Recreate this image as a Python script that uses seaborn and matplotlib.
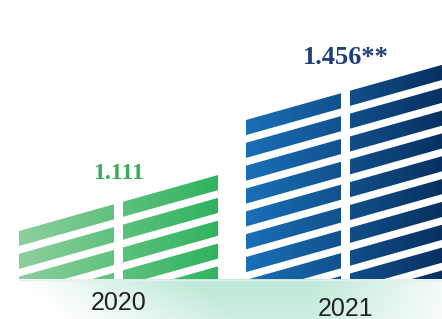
import numpy as np
import matplotlib.pyplot as plt
import seaborn as sns
from matplotlib.patches import Polygon, Rectangle
from matplotlib.colors import LinearSegmentedColormap
from matplotlib.transforms import ScaledTranslation

# Data
years = ["2020", "2021"]
values = [1111, 1456]
value_labels = ["1.111", "1.456**"]
left_colors = ["#8dcf9e", "#1a70b8"]
right_colors = ["#2fb35e", "#08305f"]
label_colors = ["#3aaa5c", "#1e3f7c"]
label_sizes = [17, 19]

# layout (value units / category units)
base = 787.7          # baseline of the "buildings"
ytop = 1655
slant = 174           # drop of the roof from right to left edge
band = 47             # coloured band thickness
gap = 24              # white stripe thickness
gap_x = 0.037         # vertical white split

sns.set_theme(style="white")
fig = plt.figure(figsize=(4.42, 3.19), dpi=100)

# mint floor band under the baseline
floor = fig.add_axes([0, 0, 1, 40 / 319])
floor.set_axis_off()
xx = np.linspace(0, 442, 442)
yy = np.linspace(0, 40, 40)
X, Y = np.meshgrid(xx, yy)
alpha = np.clip((X - 18 - Y * 1.2) / 170, 0, 1) * np.clip((470 - X) / 160, 0, 1)
alpha *= 1 - 0.25 * (Y / 40)
rgba = np.zeros((40, 442, 4))
rgba[..., 0] = 0.74
rgba[..., 1] = 0.91
rgba[..., 2] = 0.84
rgba[..., 3] = alpha
floor.imshow(rgba, extent=[0, 442, 40, 0], aspect="auto")
floor.set_xlim(0, 442)
floor.set_ylim(40, 0)
floor.plot([18, 442], [0.5, 0.5], color="#e6eef2", lw=1)

ax = fig.add_axes([0, 40 / 319, 1, 279 / 319])
ax.patch.set_alpha(0)
sns.barplot(x=years, y=values, width=0.877, ax=ax)
ax.set_xlim(-0.522, 1.425)
ax.set_ylim(base, ytop)

for i, p in enumerate(ax.patches):
    x0 = p.get_x()
    w = p.get_width()
    x1 = x0 + w
    top_r = p.get_height()
    top_l = top_r - slant
    p.set_visible(False)

    shape = Polygon([(x0, base), (x1, base), (x1, top_r), (x0, top_l)],
                    closed=True, transform=ax.transData, fc="none", ec="none")
    ax.add_patch(shape)
    cmap = LinearSegmentedColormap.from_list("g%d" % i, [left_colors[i], right_colors[i]])
    im = ax.imshow(np.linspace(0, 1, 256).reshape(1, -1), cmap=cmap,
                   extent=[x0, x1, base, top_r], aspect="auto", zorder=2)
    im.set_clip_path(shape)

    # slanted white stripes
    k = 0
    while top_r - band - k * (band + gap) - gap > base - slant - gap:
        off = band + k * (band + gap)
        s = Polygon([(x0, top_l - off - gap), (x1, top_r - off - gap),
                     (x1, top_r - off), (x0, top_l - off)],
                    closed=True, fc="white", ec="none", zorder=3)
        ax.add_patch(s)
        s.set_clip_path(shape)
        k += 1

    xc = x0 + w / 2
    ax.add_patch(Rectangle((xc - gap_x / 2, base), gap_x, top_r - base,
                           fc="white", ec="none", zorder=3))

    top_c = (top_l + top_r) / 2
    ax.annotate(value_labels[i], (xc, top_c), xytext=(0, 17 + 3 * i), textcoords="offset points",
                ha="center", va="baseline", fontsize=label_sizes[i], fontweight="bold",
                color=label_colors[i], family=["Liberation Serif", "DejaVu Serif"])

sns.despine(ax=ax, left=True, bottom=True)
ax.set_yticks([])
ax.set_xlabel("")
ax.set_ylabel("")
ax.tick_params(axis="x", length=0, pad=9)
for j, t in enumerate(ax.get_xticklabels()):
    t.set_fontsize(18)
    t.set_color("#222222")
    t.set_family(["Liberation Sans Narrow", "Liberation Sans", "DejaVu Sans"])
    if j == 1:
        t.set_transform(t.get_transform() + ScaledTranslation(0, -0.05, fig.dpi_scale_trans))

fig.savefig("out.png", dpi=100)
